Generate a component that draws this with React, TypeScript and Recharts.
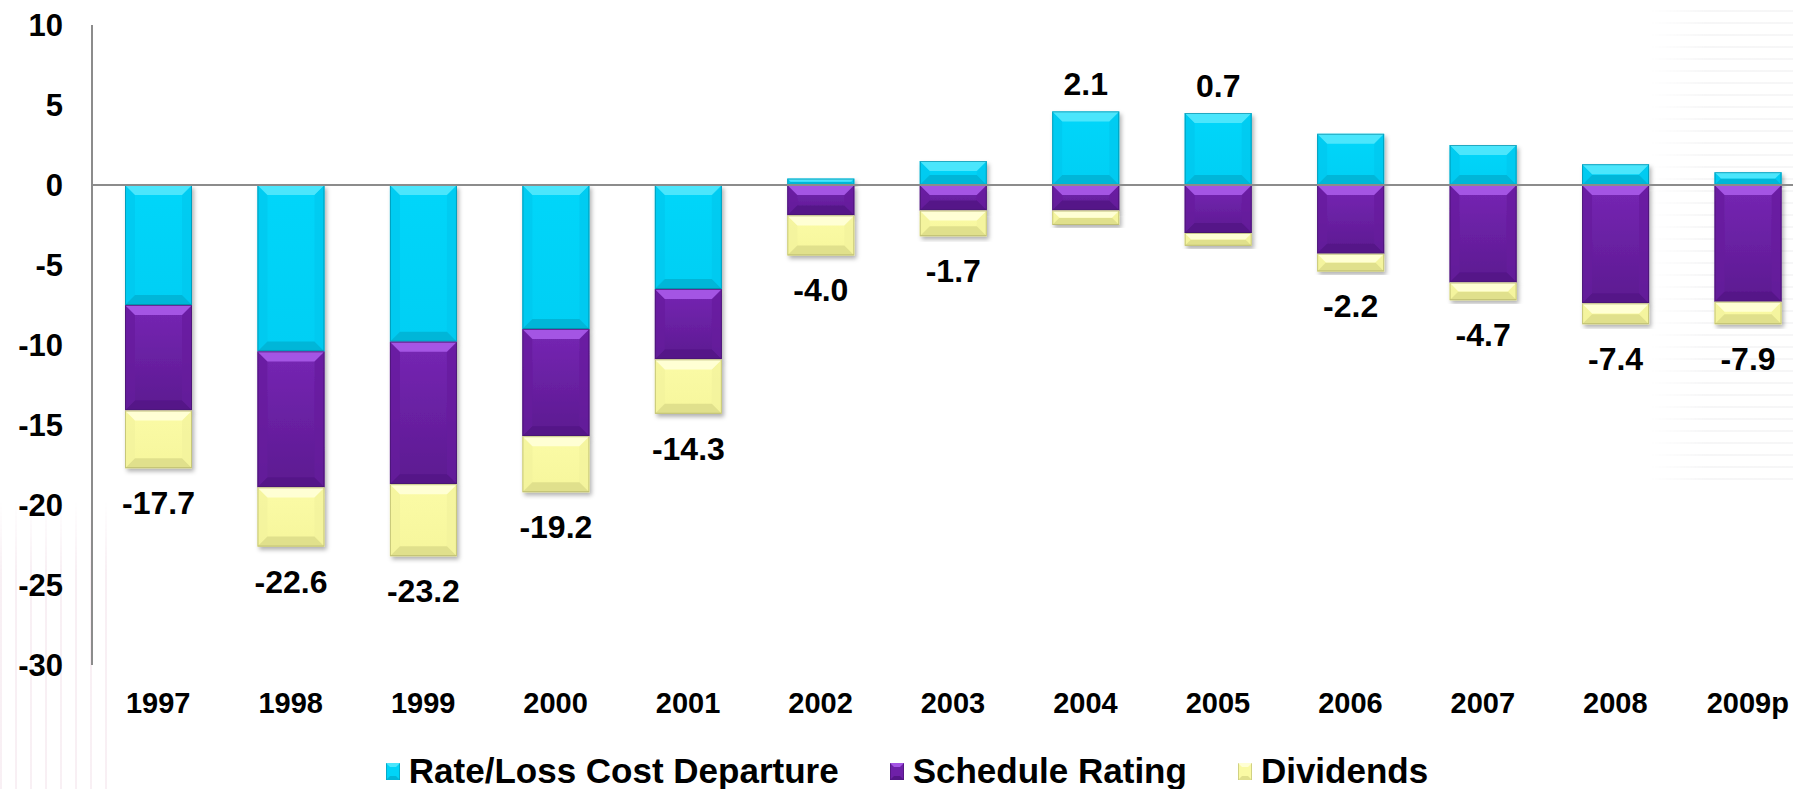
import React from 'react';
import { BarChart, Bar, XAxis, YAxis, ReferenceLine, Legend, LabelList } from 'recharts';

const years = ['1997', '1998', '1999', '2000', '2001', '2002', '2003', '2004', '2005', '2006', '2007', '2008', '2009p'];
const rateLossCostDeparture = [-7.5, -10.4, -9.8, -9.0, -6.5, 0.4, 1.5, 4.6, 4.5, 3.2, 2.5, 1.3, 0.8];
const scheduleRating = [-6.6, -8.5, -8.9, -6.7, -4.4, -1.9, -1.6, -1.6, -3.0, -4.3, -6.1, -7.4, -7.3];
const dividends = [-3.6, -3.7, -4.5, -3.5, -3.4, -2.5, -1.6, -0.9, -0.8, -1.1, -1.1, -1.3, -1.4];
const totals = [-17.7, -22.6, -23.2, -19.2, -14.3, -4.0, -1.7, 2.1, 0.7, -2.2, -4.7, -7.4, -7.9];
const yTicks = [10, 5, 0, -5, -10, -15, -20, -25, -30];
const seriesNames = ['Rate/Loss Cost Departure', 'Schedule Rating', 'Dividends'];

const data = years.map((year, i) => ({
  year,
  rate: rateLossCostDeparture[i],
  schedule: scheduleRating[i],
  dividends: dividends[i],
  total: totals[i],
}));

type Pal = { main: string; top: string; bottom: string; side: string; border: string };
const palettes: Pal[] = [
  { main: '#00D4F8', top: '#4BE6FC', bottom: '#00B6D8', side: '#00C8EE', border: '#0A8099' },
  { main: '#6E20A8', top: '#A454E4', bottom: '#551688', side: '#661D9C', border: '#3E1062' },
  { main: '#FAFAA4', top: '#FFFFD4', bottom: '#E0E08C', side: '#F2F29C', border: '#A8A860' },
];

const FONT = '"Liberation Sans", Arial, sans-serif';

const makeShape = (pal: Pal, id: number) => (props: any) => {
  const { x, y, width, height } = props;
  if (x == null || y == null || !width || !height) return <g />;
  const top = Math.min(y, y + height);
  const h = Math.abs(height);
  const w = width;
  const b = Math.min(10, h / 2, w / 2);
  const bot = top + h;
  return (
    <g filter="url(#barShadow)">
      <rect x={x} y={top} width={w} height={h} fill={`url(#grad${id})`} />
      <polygon points={`${x},${top} ${x + b},${top + b} ${x + b},${bot - b} ${x},${bot}`} fill={pal.side} fillOpacity={0.7} />
      <polygon points={`${x + w},${top} ${x + w - b},${top + b} ${x + w - b},${bot - b} ${x + w},${bot}`} fill={pal.side} fillOpacity={0.7} />
      <polygon points={`${x},${bot} ${x + w},${bot} ${x + w - b},${bot - b} ${x + b},${bot - b}`} fill={pal.bottom} />
      <polygon points={`${x},${top} ${x + w},${top} ${x + w - b},${top + b} ${x + b},${top + b}`} fill={pal.top} />
      <rect x={x + 0.5} y={top + 0.5} width={w - 1} height={Math.max(h - 1, 0)} fill="none" stroke={pal.border} strokeWidth={1} strokeOpacity={0.6} />
    </g>
  );
};

const negLabel = (props: any) => {
  const { x, y, width, height, index } = props;
  const v = totals[index];
  if (v >= 0) return <g />;
  const bottom = Math.max(y, y + height);
  return (
    <text x={x + width / 2} y={bottom + 35} textAnchor="middle" dominantBaseline="central"
      fontFamily={FONT} fontWeight="bold" fontSize={32} fill="#000">
      {v.toFixed(1)}
    </text>
  );
};

const posLabel = (props: any) => {
  const { x, y, width, height, index } = props;
  const v = totals[index];
  if (v < 0) return <g />;
  const top = Math.min(y, y + height);
  return (
    <text x={x + width / 2} y={top - 27} textAnchor="middle" dominantBaseline="central"
      fontFamily={FONT} fontWeight="bold" fontSize={32} fill="#000">
      {v.toFixed(1)}
    </text>
  );
};

const LegendContent = () => (
  <div style={{ display: 'flex', justifyContent: 'center', alignItems: 'center', height: 36, fontFamily: FONT, fontWeight: 'bold', fontSize: 35, color: '#000' }}>
    {seriesNames.map((name, i) => (
      <div key={name} style={{ display: 'flex', alignItems: 'center', marginLeft: i === 0 ? 0 : 51 }}>
        <svg width={14} height={17} style={{ marginRight: 9 }}>
          <rect x={0} y={0} width={14} height={17} fill={palettes[i].main} stroke={palettes[i].border} strokeWidth={1} />
          <polygon points="0,0 14,0 10,4 4,4" fill={palettes[i].top} />
          <polygon points="0,17 14,17 10,13 4,13" fill={palettes[i].bottom} />
        </svg>
        <span style={{ lineHeight: '36px' }}>{name}</span>
      </div>
    ))}
  </div>
);

export default function App() {
  return (
    <div style={{ position: 'fixed', left: 0, top: 0, width: 1793, height: 789, overflow: 'hidden', background: '#fff' }}>
      <div style={{ position: 'absolute', left: 0, top: 500, width: 115, height: 289,
        background: 'repeating-linear-gradient(90deg, rgba(225,185,205,0.22) 0px, rgba(225,185,205,0.22) 2px, rgba(255,255,255,0) 2px, rgba(255,255,255,0) 15px)',
        WebkitMaskImage: 'linear-gradient(to bottom, transparent 0%, black 25%, black 100%)',
        maskImage: 'linear-gradient(to bottom, transparent 0%, black 25%, black 100%)' }} />
      <div style={{ position: 'absolute', left: 1650, top: 0, width: 143, height: 480,
        background: 'repeating-linear-gradient(0deg, rgba(200,200,205,0.16) 0px, rgba(200,200,205,0.16) 2px, rgba(255,255,255,0) 2px, rgba(255,255,255,0) 12px)',
        WebkitMaskImage: 'linear-gradient(to right, transparent 0%, black 40%, black 100%)',
        maskImage: 'linear-gradient(to right, transparent 0%, black 40%, black 100%)' }} />
      <div style={{ position: 'absolute', left: 0, top: 0 }}>
        <BarChart width={1814} height={789} data={data} stackOffset="sign"
          margin={{ top: 25, right: 0, left: 0, bottom: 0 }} barSize={67}>
          <defs>
            <filter id="barShadow" x="-20%" y="-20%" width="140%" height="140%">
              <feDropShadow dx="2" dy="3" stdDeviation="2" floodColor="#000" floodOpacity="0.3" />
            </filter>
            <linearGradient id="grad0" x1="0" y1="0" x2="0" y2="1">
              <stop offset="0%" stopColor="#00D6FA" />
              <stop offset="100%" stopColor="#00CFF4" />
            </linearGradient>
            <linearGradient id="grad1" x1="0" y1="0" x2="0" y2="1">
              <stop offset="0%" stopColor="#7626B4" />
              <stop offset="100%" stopColor="#5C1A90" />
            </linearGradient>
            <linearGradient id="grad2" x1="0" y1="0" x2="0" y2="1">
              <stop offset="0%" stopColor="#FBFBA6" />
              <stop offset="100%" stopColor="#F6F69C" />
            </linearGradient>
          </defs>
          <XAxis dataKey="year" axisLine={false} tickLine={false} tickSize={0} tickMargin={27} height={88}
            interval={0}
            tick={{ fontFamily: FONT, fontWeight: 'bold', fontSize: 29, fill: '#000' }} />
          <YAxis type="number" domain={[-30, 10]} ticks={yTicks} interval={0} width={92}
            axisLine={{ stroke: '#8C8C8C', strokeWidth: 2 }} tickLine={false} tickSize={0} tickMargin={29}
            tick={{ fontFamily: FONT, fontWeight: 'bold', fontSize: 31, fill: '#000' }} />
          <Bar dataKey="rate" name={seriesNames[0]} stackId="a" fill={palettes[0].main} isAnimationActive={false} shape={makeShape(palettes[0], 0)}>
            <LabelList dataKey="total" content={posLabel} />
          </Bar>
          <Bar dataKey="schedule" name={seriesNames[1]} stackId="a" fill={palettes[1].main} isAnimationActive={false} shape={makeShape(palettes[1], 1)} />
          <Bar dataKey="dividends" name={seriesNames[2]} stackId="a" fill={palettes[2].main} isAnimationActive={false} shape={makeShape(palettes[2], 2)}>
            <LabelList dataKey="total" content={negLabel} />
          </Bar>
          <ReferenceLine y={0} stroke="#8C8C8C" strokeWidth={2} />
          <Legend verticalAlign="bottom" height={36} content={<LegendContent />} />
        </BarChart>
      </div>
    </div>
  );
}
